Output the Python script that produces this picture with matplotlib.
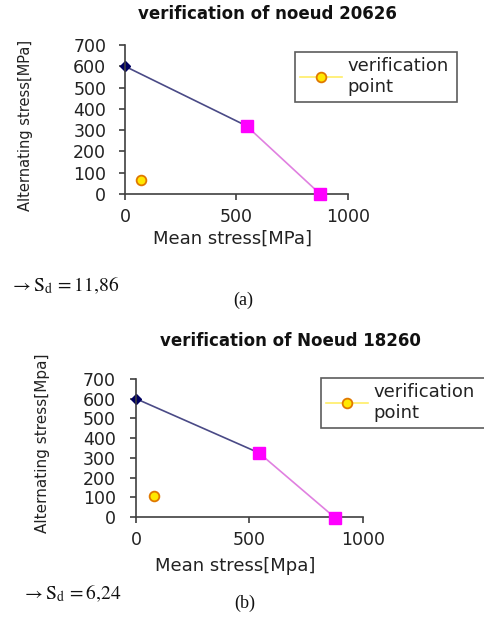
import matplotlib
matplotlib.use("Agg")
import matplotlib.pyplot as plt
from matplotlib.lines import Line2D

# ---- data ----
titles = ["verification of noeud 20626", "verification of Noeud 18260"]
xlabels = ["Mean stress[MPa]", "Mean stress[Mpa]"]
ylabels = ["Alternating stress[MPa]", "Alternating stress[Mpa]"]
sd_texts = ["11,86", "6,24"]
panel_tags = ["(a)", "(b)"]

# Goodman-type limit lines (mean, alternating)
a_lim1_x = [0, 545]
a_lim1_y = [600, 320]
a_lim2_x = [545, 875]
a_lim2_y = [320, 0]
a_ver_x = [70]
a_ver_y = [65]

b_lim1_x = [0, 542]
b_lim1_y = [600, 325]
b_lim2_x = [542, 878]
b_lim2_y = [325, -5]
b_ver_x = [80]
b_ver_y = [105]

xticks = [0, 500, 1000]
yticks = [0, 100, 200, 300, 400, 500, 600, 700]

# ---- figure ----
W, H = 485.0, 619.0
plt.rcParams['font.family'] = 'DejaVu Sans'
plt.rcParams['mathtext.fontset'] = 'stix'
fig = plt.figure(figsize=(W / 100, H / 100), dpi=100)

def px_axes(l, r, t, b):
    return [l / W, 1 - b / H, (r - l) / W, (b - t) / H]

panels = [
    dict(rect=px_axes(125, 348, 45, 194), lim1=(a_lim1_x, a_lim1_y), lim2=(a_lim2_x, a_lim2_y),
         ver=(a_ver_x, a_ver_y), title_xy=(267, 14), leg_box=(295, 52, 162, 47),
         ylab=(-0.413, 0.46), ylab_size=10.5, xlab=(0.484, -0.24), ypad=9.5,
         sd_xy=(10, 285), tag_xy=(243, 300)),
    dict(rect=px_axes(136, 363, 379, 517), lim1=(b_lim1_x, b_lim1_y), lim2=(b_lim2_x, b_lim2_y),
         ver=(b_ver_x, b_ver_y), title_xy=(290, 341), leg_box=(321, 378, 230, 49),
         ylab=(-0.379, 0.536), ylab_size=11, xlab=(0.436, -0.29), ypad=10.5,
         sd_xy=(22, 593), tag_xy=(245, 603)),
]

for i, p in enumerate(panels):
    ax = fig.add_axes(p['rect'])
    ax.plot(*p['lim1'], color='#4a4a86', linewidth=1.2, marker='D', markersize=5.5,
            markerfacecolor='#000060', markeredgecolor='#000060', markevery=[0], clip_on=False)
    ax.plot(*p['lim2'], color='#e080e0', linewidth=1.2, marker='s', markersize=8,
            markerfacecolor='#ff00ff', markeredgecolor='#ff00ff', clip_on=False, zorder=3)
    ax.plot(*p['ver'], linestyle='none', marker='o', markersize=7,
            markerfacecolor='#ffe800', markeredgecolor='#e07800', markeredgewidth=1.3, clip_on=False)

    ax.set_xlim(0, 1000)
    ax.set_ylim(0, 700)
    ax.set_xticks(xticks)
    ax.set_yticks(yticks)
    ax.spines['top'].set_visible(False)
    ax.spines['right'].set_visible(False)
    for s in ['left', 'bottom']:
        ax.spines[s].set_color('#404040')
        ax.spines[s].set_linewidth(1.2)
    ax.tick_params(direction='out', length=4, width=1.2, color='#404040',
                   labelsize=12.5, labelcolor='#222222')
    ax.tick_params(axis='y', pad=p['ypad'])
    ax.tick_params(axis='x', pad=6)

    ax.set_xlabel(xlabels[i], fontsize=13, color='#222222')
    ax.set_ylabel(ylabels[i], fontsize=p['ylab_size'], color='#222222')
    ax.xaxis.set_label_coords(*p['xlab'])
    ax.yaxis.set_label_coords(*p['ylab'])

    fig.text(p['title_xy'][0] / W, 1 - p['title_xy'][1] / H, titles[i],
             ha='center', va='center', fontsize=12, fontweight='bold', color='#111111')

    handle = Line2D([], [], color='#ffee66', linewidth=1.2, marker='o', markersize=7,
                    markerfacecolor='#ffe800', markeredgecolor='#e07800', markeredgewidth=1.3)
    lx, ly, lw, lh = p['leg_box']
    leg = fig.legend([handle], ["verification\npoint"], loc='upper left',
                     bbox_to_anchor=(lx / W, 1 - (ly + lh) / H, lw / W, lh / H), mode='expand',
                     borderaxespad=0, fancybox=False, fontsize=13, frameon=True,
                     handlelength=2.3, handletextpad=0.3, borderpad=0.3, labelspacing=0.1)
    leg.get_frame().set_edgecolor('#333333')
    leg.get_frame().set_linewidth(1.2)
    for t in leg.get_texts():
        t.set_color('#222222')

    fig.text(p['sd_xy'][0] / W, 1 - p['sd_xy'][1] / H,
             r"$\rightarrow \mathrm{S_d}\,=" + sd_texts[i].replace(",", "{,}") + "$",
             ha='left', va='center', fontsize=14, color='#111111')
    fig.text(p['tag_xy'][0] / W, 1 - p['tag_xy'][1] / H, panel_tags[i],
             ha='center', va='center', fontsize=13, family='Liberation Serif', color='#111111')

fig.savefig("out.png", dpi=100)
